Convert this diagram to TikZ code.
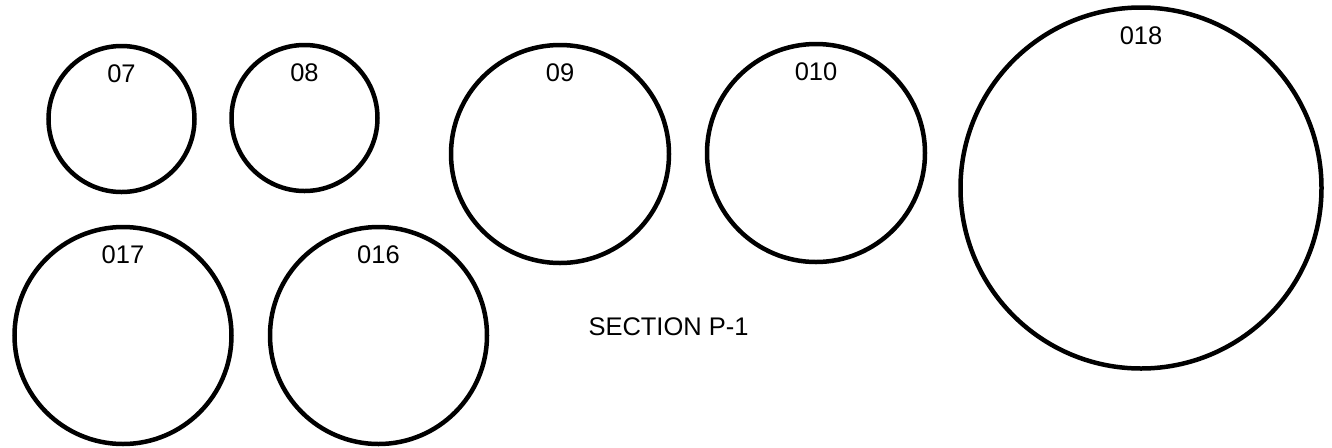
\documentclass[tikz,border=0pt]{standalone}
\usepackage{fontspec}
\setmainfont{Liberation Sans}
\tikzset{
	disc/.style = {circle, draw, line width=0.09cm, inner sep=0pt},
	tag/.style  = {anchor=north, inner sep=0pt, yshift=-0.42cm}
}
\begin{document}
\begin{tikzpicture}[font=\fontsize{14.5}{17}\selectfont]
	\useasboundingbox (0,0) rectangle (26.64,-8.94);
	\node (C07)  at ( 2.43, -2.38)	[disc, minimum size=2.92cm, label={[tag]north:07}]	{};
	\node (C08)  at ( 6.09, -2.36)	[disc, minimum size=2.92cm, label={[tag]north:08}]	{};
	\node (C09)  at (11.20, -3.08)	[disc, minimum size=4.36cm, label={[tag]north:09}]	{};
	\node (C010) at (16.32, -3.06)	[disc, minimum size=4.36cm, label={[tag]north:010}]	{};
	\node (C018) at (22.82, -3.76)	[disc, minimum size=7.22cm, label={[tag]north:018}]	{};
	\node (C017) at ( 2.46, -6.71)	[disc, minimum size=4.34cm, label={[tag]north:017}]	{};
	\node (C016) at ( 7.57, -6.71)	[disc, minimum size=4.34cm, label={[tag]north:016}]	{};
	\node (title) at (13.37, -6.53)	{SECTION P-1};
\end{tikzpicture}
\end{document}
